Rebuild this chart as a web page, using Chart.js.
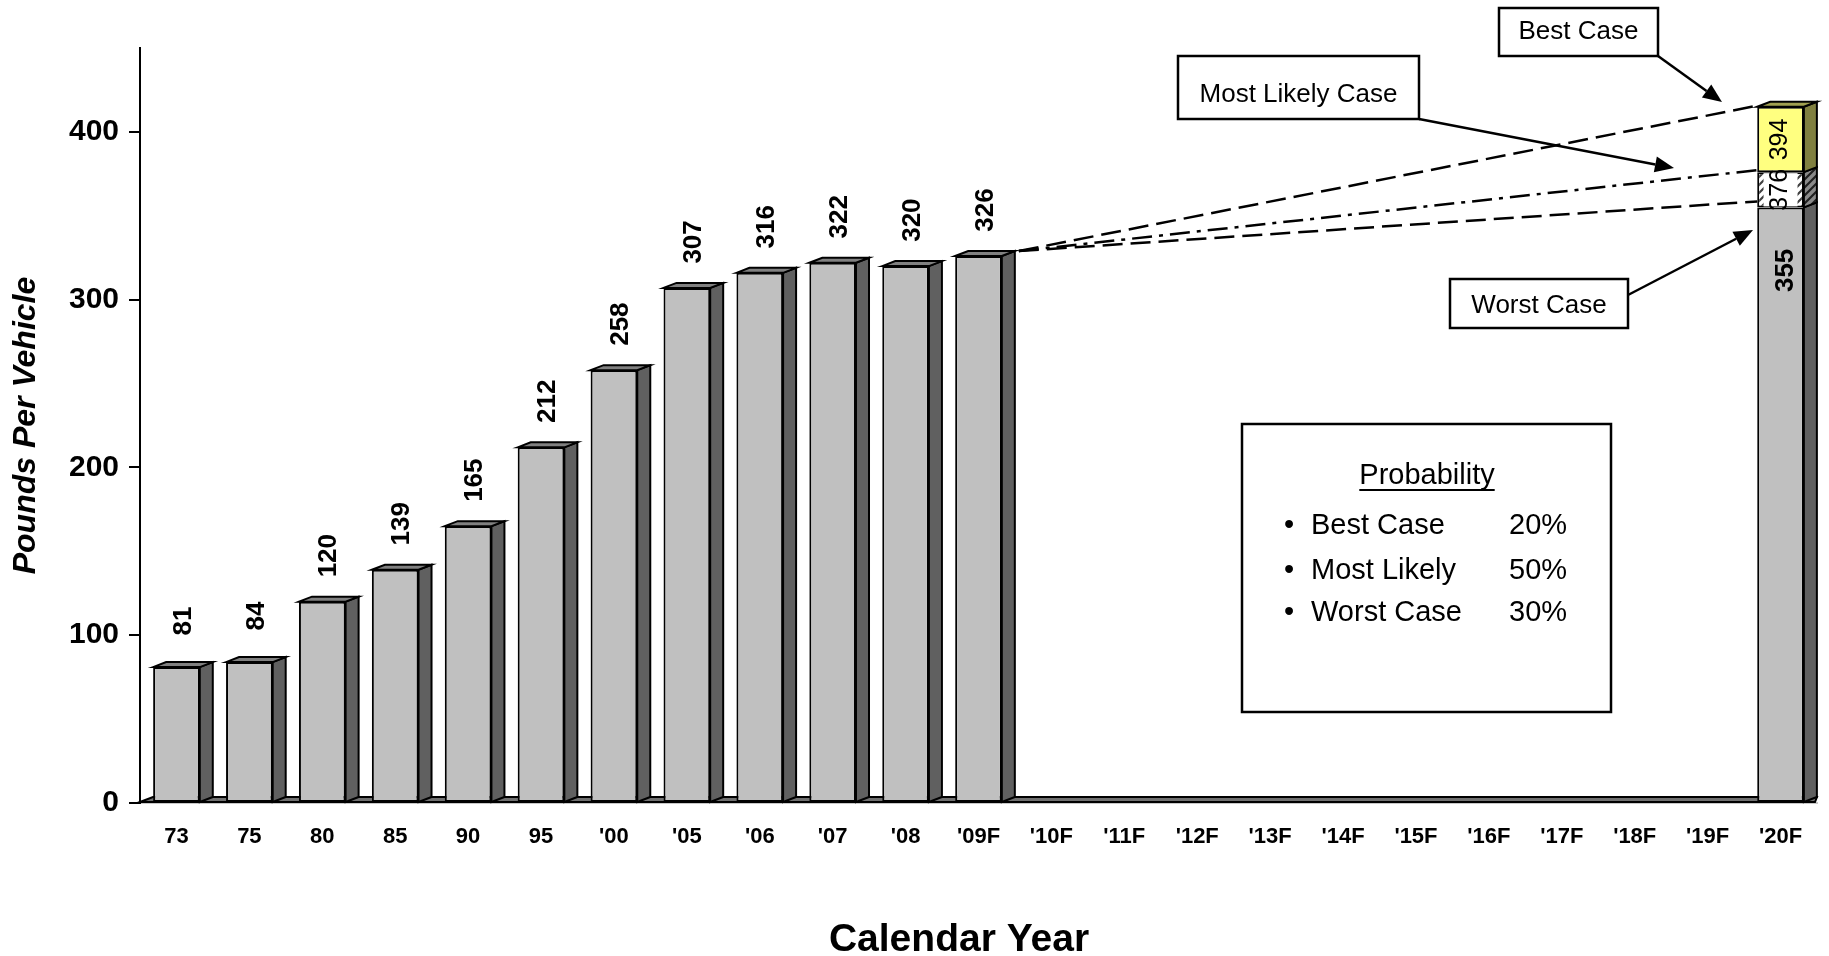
<!DOCTYPE html>
<html>
<head>
<meta charset="utf-8">
<title>Pounds Per Vehicle</title>
<script src="https://cdn.jsdelivr.net/npm/chart.js@4.4.1/dist/chart.umd.min.js"></script>
<style>
  html, body { margin: 0; padding: 0; background: #fff; }
  #wrap { width: 1829px; height: 956px; }
</style>
</head>
<body>
<div id="wrap"><canvas id="lbs-chart" width="1829" height="956"></canvas></div>
<script>
// chart data
const years = ['73', '75', '80', '85', '90', '95', "'00", "'05", "'06", "'07", "'08", "'09F",
  "'10F", "'11F", "'12F", "'13F", "'14F", "'15F", "'16F", "'17F", "'18F", "'19F", "'20F"];
// history + worst case base of the 2020 column
const pounds = [81, 84, 120, 139, 165, 212, 258, 307, 316, 322, 320, 326,
  null, null, null, null, null, null, null, null, null, null, 355];
// stacked steps on top of the 2020 base, as drawn in the original
const mostLikelyStep = [null, null, null, null, null, null, null, null, null, null, null, null,
  null, null, null, null, null, null, null, null, null, null, 21];
const bestStep = [null, null, null, null, null, null, null, null, null, null, null, null,
  null, null, null, null, null, null, null, null, null, null, 39];
const caseLabels = ['355', '376', '394'];
const yTicks = [0, 100, 200, 300, 400];
const probNames = ['Best Case', 'Most Likely', 'Worst Case'];
const probValues = ['20%', '50%', '30%'];

const FONT = "'Liberation Sans', Arial, sans-serif";
Chart.defaults.font.family = FONT;
Chart.defaults.color = '#000';

const DX = 13, DY = 5; // fake 3d depth

function hatch(bg, fg) {
  const c = document.createElement('canvas');
  c.width = 8; c.height = 8;
  const g = c.getContext('2d');
  g.fillStyle = bg;
  g.fillRect(0, 0, 8, 8);
  g.strokeStyle = fg;
  g.lineWidth = 2.2;
  g.beginPath();
  g.moveTo(-2, 10); g.lineTo(10, -2);
  g.moveTo(-6, 6); g.lineTo(6, -6);
  g.moveTo(2, 14); g.lineTo(14, 2);
  g.stroke();
  return g.createPattern(c, 'repeat');
}

const ctx = document.getElementById('lbs-chart').getContext('2d');
const hatchFront = hatch('#ffffff', '#404040');
const hatchSide = hatch('#8a8a8a', '#202020');

// side / top colours per dataset
const sideCol = ['#606060', hatchSide, '#808040'];
const topCol = ['#808080', hatchSide, '#a0a050'];

function poly(c, pts, fill) {
  c.beginPath();
  c.moveTo(pts[0][0], pts[0][1]);
  for (let i = 1; i < pts.length; i++) c.lineTo(pts[i][0], pts[i][1]);
  c.closePath();
  c.fillStyle = fill;
  c.fill();
  c.stroke();
}

// floor under the columns
const floorPlugin = {
  id: 'floor',
  beforeDatasetsDraw(chart) {
    const c = chart.ctx, a = chart.chartArea;
    c.save();
    c.strokeStyle = '#000';
    c.lineWidth = 2;
    poly(c, [[a.left, a.bottom - 1], [a.left + DX, a.bottom - DY - 1], [a.right, a.bottom - DY - 1], [a.right - 2, a.bottom - 1]], '#707070');
    c.restore();
  }
};

// side and top faces of each column
const depthPlugin = {
  id: 'depth',
  afterDatasetsDraw(chart) {
    const c = chart.ctx;
    c.save();
    c.strokeStyle = '#000';
    c.lineWidth = 2;
    const n = chart.data.labels.length;
    for (let j = 0; j < n; j++) {
      let topDs = -1;
      chart.data.datasets.forEach((ds, i) => {
        if (ds.data[j] == null) return;
        const b = chart.getDatasetMeta(i).data[j];
        const r = b.x + b.width / 2;
        poly(c, [[r, b.y], [r + DX, b.y - DY], [r + DX, b.base - DY], [r, b.base]], sideCol[i]);
        topDs = i;
      });
      if (topDs >= 0) {
        const b = chart.getDatasetMeta(topDs).data[j];
        const l = b.x - b.width / 2, r = b.x + b.width / 2;
        poly(c, [[l, b.y], [l + DX, b.y - DY], [r + DX, b.y - DY], [r, b.y]], topCol[topDs]);
      }
    }
    c.restore();
  }
};

function vText(c, txt, x, y, font) {
  c.save();
  c.translate(x, y);
  c.rotate(-Math.PI / 2);
  c.font = font;
  c.textAlign = 'center';
  c.textBaseline = 'middle';
  c.fillStyle = '#000';
  c.fillText(txt, 0, 0);
  c.restore();
}

// value labels, scenario lines, call-outs
const notesPlugin = {
  id: 'notes',
  afterDatasetsDraw(chart) {
    const c = chart.ctx;
    const m0 = chart.getDatasetMeta(0), m1 = chart.getDatasetMeta(1), m2 = chart.getDatasetMeta(2);
    const last = years.length - 1;

    // history labels
    pounds.forEach((v, j) => {
      if (v == null || j === last) return;
      const b = m0.data[j];
      vText(c, String(v), b.x + 7, b.y - 46, 'bold 26px ' + FONT);
    });

    // 2020 column labels
    const b0 = m0.data[last], b1 = m1.data[last], b2 = m2.data[last];
    vText(c, caseLabels[0], b0.x + 5, b0.y + 63, 'bold 26px ' + FONT);
    c.save();
    c.fillStyle = '#fff';
    c.fillRect(b1.x - 17, b1.y + 1, 34, b1.base - b1.y - 2);
    c.restore();
    vText(c, caseLabels[1], b1.x, (b1.y + b1.base) / 2, '25px ' + FONT);
    vText(c, caseLabels[2], b2.x, (b2.y + b2.base) / 2, '25px ' + FONT);

    // scenario lines from the '09F column to the 2020 column
    const s = m0.data[11];
    const sx = s.x + s.width / 2 + DX, sy = s.y - DY;
    const ex = b0.x - b0.width / 2;
    const lines = [
      [b2.y - 1, [20, 8]],
      [b1.y - 2, [20, 7, 4, 7]],
      [b0.y - 6, [20, 8]]
    ];
    c.save();
    c.strokeStyle = '#000';
    c.lineWidth = 2.5;
    lines.forEach(([ey, dash]) => {
      c.setLineDash(dash);
      c.beginPath();
      c.moveTo(sx + 4, sy);
      c.lineTo(ex, ey);
      c.stroke();
    });
    c.restore();
  },
  afterDraw(chart) {
    const c = chart.ctx;
    c.save();
    c.strokeStyle = '#000';
    c.fillStyle = '#000';
    c.lineWidth = 2.5;

    // x axis title, placed a bit left of the plot centre like the original
    c.font = 'bold 39px ' + FONT;
    c.textAlign = 'center';
    c.textBaseline = 'middle';
    c.fillText('Calendar Year', 959, 940);

    function box(x, y, w, h, txt, ty) {
      c.fillStyle = '#fff';
      c.fillRect(x, y, w, h);
      c.strokeRect(x, y, w, h);
      c.fillStyle = '#000';
      c.font = '26px ' + FONT;
      c.textAlign = 'center';
      c.textBaseline = 'middle';
      c.fillText(txt, x + w / 2, ty);
    }
    function arrow(x1, y1, x2, y2) {
      const ang = Math.atan2(y2 - y1, x2 - x1);
      const L = 19, W = 8;
      const bx = x2 - L * Math.cos(ang), by = y2 - L * Math.sin(ang);
      c.beginPath();
      c.moveTo(x1, y1);
      c.lineTo(bx, by);
      c.stroke();
      c.beginPath();
      c.moveTo(x2, y2);
      c.lineTo(bx + W * Math.sin(ang), by - W * Math.cos(ang));
      c.lineTo(bx - W * Math.sin(ang), by + W * Math.cos(ang));
      c.closePath();
      c.fillStyle = '#000';
      c.fill();
    }

    box(1499, 8, 159, 48, 'Best Case', 32);
    arrow(1658, 56, 1722, 102);
    box(1178, 56, 241, 63, 'Most Likely Case', 95);
    arrow(1419, 119, 1674, 168);
    box(1450, 279, 178, 49, 'Worst Case', 306);
    arrow(1628, 295, 1753, 230);

    // probability box
    c.lineWidth = 2.5;
    c.strokeRect(1242, 424, 369, 288);
    c.font = '29px ' + FONT;
    c.textAlign = 'center';
    c.textBaseline = 'middle';
    c.fillStyle = '#000';
    c.fillText('Probability', 1427, 476);
    const tw = c.measureText('Probability').width;
    c.lineWidth = 2;
    c.beginPath();
    c.moveTo(1427 - tw / 2, 490);
    c.lineTo(1427 + tw / 2, 490);
    c.stroke();
    const rowsY = [526, 571, 613];
    probNames.forEach((nm, i) => {
      c.textAlign = 'center';
      c.fillText('\u2022', 1289, rowsY[i]);
      c.textAlign = 'left';
      c.fillText(nm, 1311, rowsY[i]);
      c.fillText(probValues[i], 1509, rowsY[i]);
    });
    c.restore();
  }
};

new Chart(ctx, {
  type: 'bar',
  data: {
    labels: years,
    datasets: [
      {
        label: 'Pounds Per Vehicle',
        data: pounds,
        backgroundColor: '#c0c0c0',
        borderColor: '#000',
        borderWidth: 2,
        borderSkipped: false
      },
      {
        label: 'Most Likely Case',
        data: mostLikelyStep,
        backgroundColor: hatchFront,
        borderColor: '#000',
        borderWidth: 2,
        borderSkipped: false
      },
      {
        label: 'Best Case',
        data: bestStep,
        backgroundColor: '#ffff80',
        borderColor: '#000',
        borderWidth: 2,
        borderSkipped: false
      }
    ]
  },
  options: {
    responsive: false,
    animation: false,
    devicePixelRatio: 1,
    barPercentage: 0.64,
    categoryPercentage: 1,
    layout: { padding: { top: 48, right: 12, left: 0, bottom: 0 } },
    plugins: {
      legend: { display: false },
      tooltip: { enabled: false }
    },
    scales: {
      x: {
        stacked: true,
        offset: true,
        grid: { display: false, drawTicks: false },
        border: { color: '#c8c8c8', width: 2 },
        ticks: {
          font: { size: 22, weight: 'bold' },
          color: '#000',
          padding: 21,
          maxRotation: 0,
          autoSkip: false
        },
        afterFit: (s) => { s.height = 153; }
      },
      y: {
        stacked: true,
        min: 0,
        max: 450,
        ticks: {
          stepSize: 100,
          padding: 10,
          color: '#000',
          font: { size: 30, weight: 'bold' }
        },
        afterBuildTicks: (s) => {
          s.ticks = yTicks.map(v => ({ value: v }));
        },
        grid: { drawOnChartArea: false, tickLength: 11, color: '#000', lineWidth: 2 },
        border: { color: '#000', width: 2 },
        title: {
          display: true,
          text: 'Pounds Per Vehicle',
          color: '#000',
          font: { size: 32, weight: 'bold', style: 'italic', lineHeight: 1 },
          padding: { top: 10 }
        },
        afterFit: (s) => { s.width = 140; }
      }
    }
  },
  plugins: [floorPlugin, depthPlugin, notesPlugin]
});
</script>
</body>
</html>
